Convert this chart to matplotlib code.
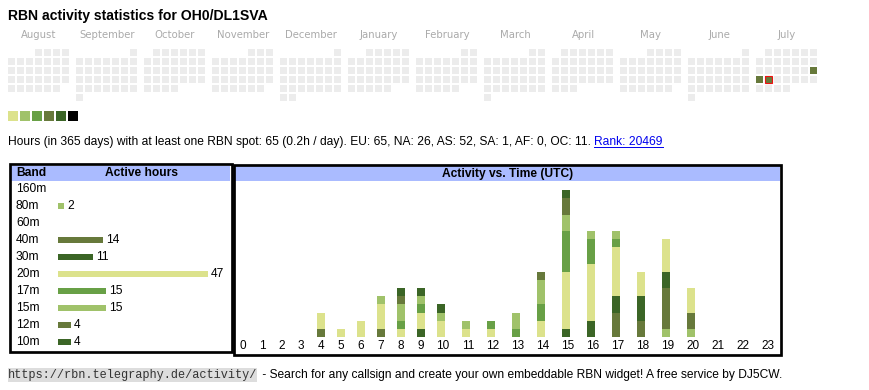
import calendar
import datetime as dt
import matplotlib
matplotlib.use('Agg')
import matplotlib.pyplot as plt
from matplotlib.patches import Rectangle

# ---- data ----
callsign = "OH0/DL1SVA"
months = [(2024, 8), (2024, 9), (2024, 10), (2024, 11), (2024, 12), (2025, 1),
          (2025, 2), (2025, 3), (2025, 4), (2025, 5), (2025, 6), (2025, 7)]
month_names = ["August", "September", "October", "November", "December", "January",
               "February", "March", "April", "May", "June", "July"]
active_days = [dt.date(2025, 7, 20), dt.date(2025, 7, 21), dt.date(2025, 7, 22)]
active_levels = [3, 3, 3]
today = dt.date(2025, 7, 22)

level_colors = ["#dce28c", "#a0c26a", "#68a046", "#67793b", "#3b6526", "#000000"]

bands = ["160m", "80m", "60m", "40m", "30m", "20m", "17m", "15m", "12m", "10m"]
band_colors = ["#68a046", "#a0c26a", "#dce28c", "#67793b", "#3b6526",
               "#dce28c", "#68a046", "#a0c26a", "#67793b", "#3b6526"]

hours = list(range(24))
# active hours per UTC hour, per band (bottom to top of the stack)
h160 = [0] * 24
h80 = [0, 0, 0, 0, 0, 0, 0, 0, 0, 0, 0, 0, 0, 0, 0, 0, 0, 0, 0, 1, 1, 0, 0, 0]
h60 = [0] * 24
h40 = [0, 0, 0, 0, 1, 0, 0, 1, 0, 0, 0, 0, 0, 0, 0, 0, 0, 3, 2, 5, 2, 0, 0, 0]
h30 = [0, 0, 0, 0, 0, 0, 0, 0, 0, 1, 0, 0, 0, 0, 0, 1, 2, 2, 3, 2, 0, 0, 0, 0]
h20 = [0, 0, 0, 0, 2, 1, 2, 3, 1, 2, 2, 1, 1, 0, 2, 7, 7, 6, 3, 4, 3, 0, 0, 0]
h17 = [0, 0, 0, 0, 0, 0, 0, 0, 1, 1, 0, 0, 1, 1, 2, 5, 3, 1, 0, 0, 0, 0, 0, 0]
h15 = [0, 0, 0, 0, 0, 0, 0, 1, 2, 1, 1, 1, 0, 2, 3, 2, 1, 1, 0, 0, 0, 0, 0, 0]
h12 = [0, 0, 0, 0, 0, 0, 0, 0, 1, 0, 0, 0, 0, 0, 1, 2, 0, 0, 0, 0, 0, 0, 0, 0]
h10 = [0, 0, 0, 0, 0, 0, 0, 0, 1, 1, 1, 0, 0, 0, 0, 1, 0, 0, 0, 0, 0, 0, 0, 0]
hourly = [h160, h80, h60, h40, h30, h20, h17, h15, h12, h10]
band_hours = [sum(h) for h in hourly]

total_hours = 65
per_day = 0.2
continents = ["EU", "NA", "AS", "SA", "AF", "OC"]
continent_hours = [65, 26, 52, 1, 0, 11]
rank = 20469

# ---- figure, pixel based background axes ----
W, H = 870, 390
fig = plt.figure(figsize=(W / 100, H / 100), dpi=100)
bg = fig.add_axes([0, 0, 1, 1])
bg.set_xlim(0, W)
bg.set_ylim(H, 0)
bg.axis('off')

SANS = 'Liberation Sans'
FS = 8.62


def px_axes(x0, y0, x1, y1):
    ax = fig.add_axes([x0 / W, 1 - y1 / H, (x1 - x0) / W, (y1 - y0) / H])
    ax.axis('off')
    return ax


bg.text(8, 16, f"RBN activity statistics for {callsign}", fontsize=10.1,
        fontweight='bold', family=SANS, va='center', ha='left')

# calendar
for m, (yr, mo) in enumerate(months):
    bx = 8 + m * 68
    bg.text(bx + 31, 35, month_names[m], ha='center', va='center', color='#aaaaaa',
            fontsize=7.3, family='DejaVu Sans')
    first_wd, ndays = calendar.monthrange(yr, mo)
    for d in range(1, ndays + 1):
        row, col = divmod(d - 1 + first_wd, 7)
        x, y = bx + col * 9, 49 + row * 9
        day = dt.date(yr, mo, d)
        fc = '#ececec'
        if day in active_days:
            fc = level_colors[active_levels[active_days.index(day)]]
        bg.add_patch(Rectangle((x, y), 7, 7, fc=fc, lw=0))
        if day == today:
            bg.add_patch(Rectangle((x + 0.4, y + 0.4), 6.2, 6.2, fc='none', ec='#ee1111', lw=0.8))

for i, c in enumerate(level_colors):
    bg.add_patch(Rectangle((8 + i * 12, 111), 10, 10, fc=c, lw=0))

# summary line
cont_txt = ", ".join(f"{c}: {v}" for c, v in zip(continents, continent_hours))
summary = bg.text(8, 142, f"Hours (in 365 days) with at least one RBN spot: {total_hours} "
                  f"({per_day}h / day). {cont_txt}. ", fontsize=FS, family=SANS,
                  va='center', ha='left')
link = bg.annotate(f"Rank: {rank}", xy=(1, 0.5), xycoords=summary, va='center', ha='left',
                   fontsize=FS, family=SANS, color='#0000ee')

# boxes and headers
HEAD = '#aabbff'
bg.add_patch(Rectangle((11, 166), 219.5, 15, fc=HEAD, lw=0))
bg.add_patch(Rectangle((235, 166), 545, 15, fc=HEAD, lw=0))
bg.add_patch(Rectangle((9.65, 164), 221.9, 187.7, fc='none', ec='black', lw=1.95))
bg.add_patch(Rectangle((233.65, 164.65), 547.7, 190, fc='none', ec='black', lw=1.95))
bg.text(16, 173.5, "Band", fontsize=FS, fontweight='bold', family=SANS, va='center')
bg.text(141.5, 173.5, "Active hours", fontsize=FS, fontweight='bold', family=SANS,
        va='center', ha='center')
bg.text(507.5, 173.5, "Activity vs. Time (UTC)", fontsize=FS, fontweight='bold',
        family=SANS, va='center', ha='center')

# band table
row_y = [189 + 17 * i for i in range(len(bands))]
for b, y in zip(bands, row_y):
    bg.text(16, y, b, fontsize=FS, family=SANS, va='center')

ax_band = px_axes(58, 0, 230, H)
ax_band.set_xlim(0, 172 / 3.19)
ax_band.set_ylim(H, 0)
ax_band.barh(row_y, band_hours, height=6, color=band_colors, lw=0)
for v, y in zip(band_hours, row_y):
    if v > 0:
        ax_band.annotate(str(v), xy=(v, y), xytext=(2.2, 0), textcoords='offset points',
                         va='center', ha='left', fontsize=FS, family=SANS)

# activity vs time: column widths follow the label widths like an html table
col_w = [19.3 if (h < 4) else (20 if h < 10 else 25) for h in hours]
centers = []
x = 243 - col_w[0] / 2
for w in col_w:
    centers.append(x + w / 2)
    x += w
lefts = [c - (3.5 if h < 10 else 6) for c, h in zip(centers, hours)]

ax_time = px_axes(233, 0, 782, 337)
ax_time.set_xlim(233, 782)
ax_time.set_ylim(0, 337 / 8.15)
bottom = [0] * 24
for vals, col in zip(hourly, band_colors):
    ax_time.bar(lefts, vals, width=8, bottom=bottom, align='edge', color=col, lw=0)
    bottom = [b + v for b, v in zip(bottom, vals)]

for c, h in zip(centers, hours):
    bg.text(c, 346, str(h), fontsize=8.5, family=SANS, ha='center', va='center')

# footer
url = bg.text(8, 375, "https://rbn.telegraphy.de/activity/", fontsize=8.6,
              family='Liberation Mono', color='#333333', va='center', ha='left')
bg.annotate(" - Search for any callsign and create your own embeddable RBN widget! "
            "A free service by DJ5CW.", xy=(1, 0.5), xycoords=url, xytext=(1.2, 0),
            textcoords='offset points', va='center', ha='left', fontsize=8.66, family=SANS)

fig.canvas.draw()
inv = bg.transData.inverted()
bb = url.get_window_extent()
(ux0, _), (ux1, _) = inv.transform([[bb.x0, bb.y0], [bb.x1, bb.y1]])
bg.add_patch(Rectangle((ux0, 367.7), ux1 - ux0, 14, fc='#dddddd', lw=0, zorder=0))
bb = link.get_window_extent()
(lx0, _), (lx1, _) = inv.transform([[bb.x0, bb.y0], [bb.x1, bb.y1]])
bg.plot([lx0, lx1], [147, 147], color='#0000ee', lw=0.7)

fig.savefig('out.png', dpi=100)
